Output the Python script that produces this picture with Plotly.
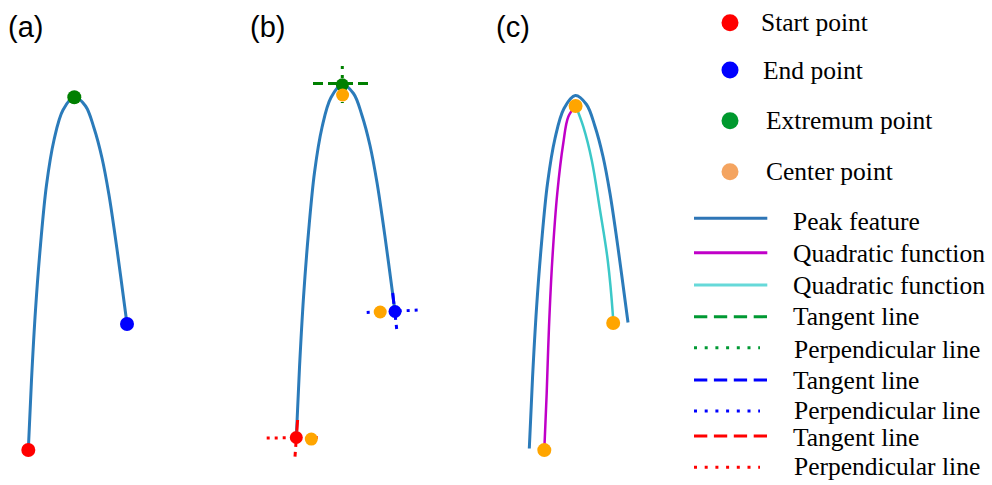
import plotly.graph_objects as go

# ---------------- data (local diagram units) ----------------
peak_x = [28.3, 31.5, 35.5, 40.5, 46.5, 54.0, 63.0, 74.3, 85.5, 94.0, 102.0, 109.0, 115.0, 120.5, 127.0]
peak_y = [450.0, 380.0, 310.0, 245.0, 185.0, 140.0, 110.0, 97.0, 106.0, 128.0, 158.0, 195.0, 235.0, 275.0, 324.0]

start_pt = (28.3, 450.0)
end_pt = (127.0, 324.0)
extremum_pt = (74.3, 97.3)

center_x = [43.3, 74.6, 112.2]
center_y = [451.6, 107.5, 324.5]

quad_left_x = [43.3, 45.7, 48.0, 51.3, 56.3, 62.3, 67.3, 74.7]
quad_left_y = [451.5, 394.5, 328.2, 261.5, 194.5, 144.5, 118.2, 107.2]
quad_right_x = [74.7, 82.3, 90.7, 99.0, 106.7, 112.0, 112.3]
quad_right_y = [107.2, 128.2, 161.5, 211.5, 261.5, 318.2, 324.2]

# tangent / perpendicular segments in panel (b)
tan_top_x, tan_top_y = [45.0, 100.0], [96.0, 96.0]
perp_top_x, perp_top_y = [74.3, 74.3], [78.5, 115.5]
tan_start_x, tan_start_y = [29.6, 27.0], [432.5, 469.2]
perp_start_x, perp_start_y = [-1.3, 53.7], [450.5, 450.0]
tan_end_x, tan_end_y = [124.7, 128.7], [305.5, 341.5]
perp_end_x, perp_end_y = [98.7, 152.0], [325.0, 322.5]

point_labels = ["Start point", "End point", "Extremum point", "Center point"]
line_labels = ["Peak feature", "Quadratic function", "Quadratic function",
               "Tangent line", "Perpendicular line", "Tangent line",
               "Perpendicular line", "Tangent line", "Perpendicular line"]
panel_labels = ["(a)", "(b)", "(c)"]

# ---------------- styles ----------------
BLUE_LINE = "#2b7bba"
MAGENTA = "#c000c8"
CYAN = "#3cc8c8"
ORANGE = "#ffa500"
GREEN = "#008000"
RED = "#ff0000"
BLUE = "#0000ff"

W, H = 992, 485
# panel offsets (pixels)
panels = {"a": (0, 0), "b": (268, -12.5), "c": (501, -1.5)}

fig = go.Figure()


def add(trace, ax):
    trace.update(xaxis="x" + ("" if ax == 1 else str(ax)), yaxis="y" + ("" if ax == 1 else str(ax)),
                 showlegend=False, hoverinfo="skip")
    fig.add_trace(trace)


def line(x, y, color, width=3, dash="solid", ax=1, shape="spline"):
    add(go.Scatter(x=x, y=y, mode="lines", line=dict(color=color, width=width, dash=dash, shape=shape)), ax)


def dots(x, y, color, size=14, ax=1):
    add(go.Scatter(x=x, y=y, mode="markers", marker=dict(color=color, size=size, line=dict(width=0))), ax)


# panel (a)
line(peak_x, peak_y, BLUE_LINE, ax=1)
dots([start_pt[0]], [start_pt[1]], RED, ax=1)
dots([end_pt[0]], [end_pt[1]], BLUE, ax=1)
dots([extremum_pt[0]], [extremum_pt[1]], GREEN, ax=1)

# panel (b)
line(peak_x, peak_y, BLUE_LINE, ax=2)
line(tan_top_x, tan_top_y, GREEN, width=3, dash="10px,5px", ax=2, shape="linear")
line(perp_top_x, perp_top_y, GREEN, width=3, dash="3px,6px", ax=2, shape="linear")
line(tan_start_x, tan_start_y, RED, width=3, dash="11px,5px", ax=2, shape="linear")
line(perp_start_x, perp_start_y, RED, width=3, dash="3px,5px", ax=2, shape="linear")
line(tan_end_x, tan_end_y, BLUE, width=3, dash="11px,5px", ax=2, shape="linear")
line(perp_end_x, perp_end_y, BLUE, width=3, dash="3px,5px", ax=2, shape="linear")
dots([start_pt[0]], [start_pt[1]], RED, size=13, ax=2)
dots([end_pt[0]], [end_pt[1]], BLUE, size=13, ax=2)
dots([extremum_pt[0]], [extremum_pt[1]], GREEN, size=13, ax=2)
dots([center_x[0], center_x[2]], [center_y[0], center_y[2]], ORANGE, size=13, ax=2)
dots([center_x[1]], [center_y[1]], ORANGE, size=13, ax=2)

# panel (c)
line(peak_x, peak_y, BLUE_LINE, ax=3)
line(quad_left_x, quad_left_y, MAGENTA, width=2.5, ax=3)
line(quad_right_x, quad_right_y, CYAN, width=2.5, ax=3)
dots(center_x, center_y, ORANGE, size=14, ax=3)

# ---------------- manual legend (pixel space, axis 4) ----------------
LEG_FONT = dict(family="Liberation Serif, Times New Roman, serif", size=25.5, color="black")
pt_colors = [RED, BLUE, "#00992e", "#f4a460"]
pt_y = [22.7, 70.0, 120.7, 171.7]
pt_text_x = [759.0, 760.5, 764.0, 763.5]
for lab, c, yy, tx in zip(point_labels, pt_colors, pt_y, pt_text_x):
    dots([730], [yy], c, size=17, ax=4)
    fig.add_annotation(x=tx, y=yy, xref="x4", yref="y4", text=lab, showarrow=False,
                       xanchor="left", yanchor="middle", font=LEG_FONT)

DASH, DOT = "13.3px,6.6px", "3px,7.7px"
ln_colors = ["#2e75b6", MAGENTA, "#66d9d9", "#009933", "#009933", BLUE, BLUE, RED, RED]
ln_dash = ["solid", "solid", "solid", DASH, DOT, DASH, DOT, DASH, DOT]
ln_y = [218.3, 252.7, 285.0, 316.7, 347.7, 380.0, 411.0, 436.0, 467.3]
ln_text_y = [221.0, 253.0, 285.0, 316.7, 349.0, 380.0, 410.7, 437.7, 466.7]
ln_text_x = [790.5, 790.5, 790.5, 790.5, 791.8, 790.5, 791.8, 790.5, 791.8]
for lab, c, d, yy, ty, tx in zip(line_labels, ln_colors, ln_dash, ln_y, ln_text_y, ln_text_x):
    x1 = 760 if d == DOT else 767.3
    line([694, x1], [yy, yy], c, width=3, dash=d, ax=4, shape="linear")
    fig.add_annotation(x=tx, y=ty, xref="x4", yref="y4", text=lab, showarrow=False,
                       xanchor="left", yanchor="middle", font=LEG_FONT)

# panel labels
lab_x = [6, 248, 494]
for lab, lx in zip(panel_labels, lab_x):
    fig.add_annotation(x=lx, y=27, xref="x4", yref="y4", text=lab, showarrow=False,
                       xanchor="left", yanchor="middle",
                       font=dict(family="Liberation Sans, Arial, sans-serif", size=29, color="black"))

# ---------------- axes ----------------
hidden = dict(visible=False, showgrid=False, zeroline=False, fixedrange=True)
layout_axes = {}
for i, key in enumerate(["a", "b", "c", None], start=1):
    ox, oy = panels[key] if key else (0, 0)
    sx = "" if i == 1 else str(i)
    layout_axes["xaxis" + sx] = dict(hidden, domain=[0, 1], range=[-ox, W - ox], anchor="y" + sx)
    layout_axes["yaxis" + sx] = dict(hidden, domain=[0, 1], range=[H - oy, -oy], anchor="x" + sx)

fig.update_layout(width=W, height=H, margin=dict(l=0, r=0, t=0, b=0),
                  paper_bgcolor="white", plot_bgcolor="rgba(0,0,0,0)", **layout_axes)

fig.write_html("out.html")
